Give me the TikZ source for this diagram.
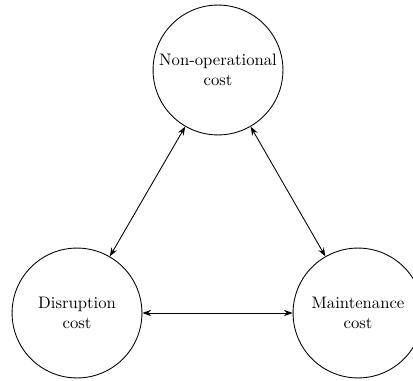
\documentclass[tikz,border=0pt]{standalone}
\usetikzlibrary{arrows.meta}
\begin{document}
\begin{tikzpicture}[x=0.02025cm, y=-0.02025cm,
  costnode/.style={draw, circle, line width=0.5pt, minimum size=2.63cm, inner sep=0pt,
    align=center, font=\fontsize{9.6pt}{11.6pt}\selectfont},
  link/.style={{Stealth[length=5pt,width=3.6pt]}-{Stealth[length=5pt,width=3.6pt]}, line width=0.5pt}]
  \useasboundingbox (0,0) rectangle (413,380);
  \node[costnode] (nonop) at (218,70) {Non-operational\\cost};
  \node[costnode] (disr) at (77,313) {Disruption\\cost};
  \node[costnode] (maint) at (358,313) {Maintenance\\cost};
  \draw[link] (nonop) -- (disr);
  \draw[link] (nonop) -- (maint);
  \draw[link] (disr) -- (maint);
\end{tikzpicture}
\end{document}
